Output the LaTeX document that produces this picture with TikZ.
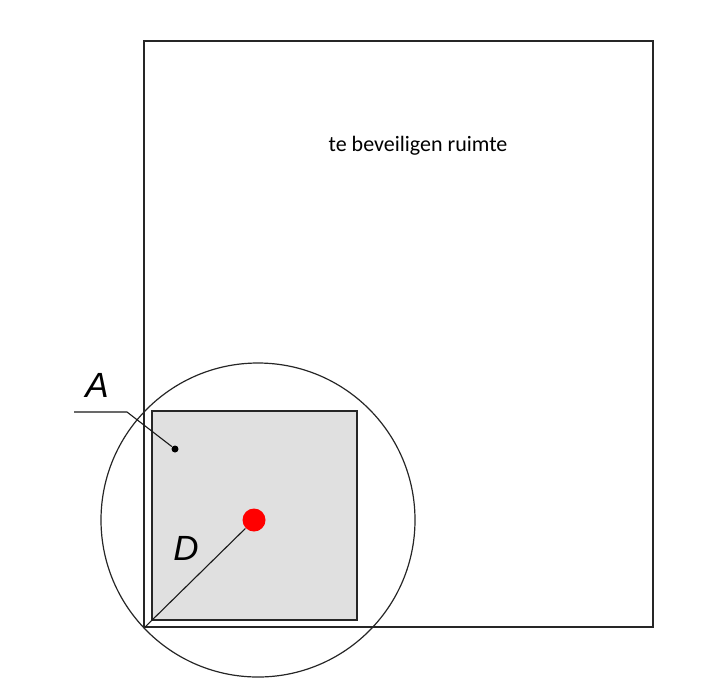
\documentclass[tikz,border=0pt]{standalone}
\usepackage{fontspec}
\setmainfont{Liberation Sans}
\newfontfamily\labelfont{Carlito}
\usetikzlibrary{positioning,calc}

\begin{document}
\begin{tikzpicture}[x=1pt,y=-1pt,line width=1.2pt,
    wall/.style={draw=black!85},
    zone/.style={draw=black!85,fill=black!12},
    letter/.style={font=\fontsize{35}{35}\selectfont\itshape},
    leader/.style={draw=black!90,line width=1.1pt}]
            \useasboundingbox (0,0) rectangle (708,697);
            % te beveiligen ruimte
            \draw[wall] (144,41) rectangle (653,627);
            \node[font=\labelfont\fontsize{22}{22}\selectfont] (ruimte) at (418,146) {te beveiligen ruimte};
            % afgeschermd gebied
            \draw[zone] (152,411) rectangle (357,620);
            \coordinate (hoek) at (145,627);
            \node[circle,fill=red,inner sep=0pt,minimum size=23pt] (bron) at (254,520) {};
            \draw[wall] (258,520) circle (157);
            \draw[leader] (hoek) -- (bron);
            \node[letter] (D) at (186,548) {D};
            % punt A
            \node[circle,fill=black,inner sep=0pt,minimum size=7pt] (puntA) at (175,449) {};
            \node[letter] (A) at (97,385) {A};
            \coordinate (knik) at (127,412);
            \draw[leader] (74,412) -- (knik) -- (puntA);
        \end{tikzpicture}
\end{document}
